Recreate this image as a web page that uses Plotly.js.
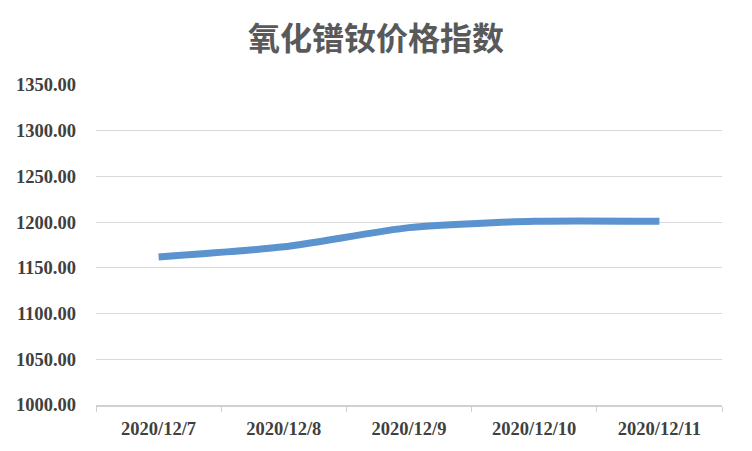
<!DOCTYPE html>
<html><head><meta charset="utf-8">
<script src="https://cdn.plot.ly/plotly-3.0.1.min.js"></script>
<style>html,body{margin:0;padding:0;background:#fff}#chart{width:752px;height:451px}</style>
</head><body><div id="chart"></div>
<script>
var categories = ["2020/12/7", "2020/12/8", "2020/12/9", "2020/12/10", "2020/12/11"];
var values = [1162, 1173, 1194, 1201, 1201];
var yTicks = [1000, 1050, 1100, 1150, 1200, 1250, 1300, 1350];
var chartTitle = "氧化镨钕价格指数";

var trace = {
  x: categories, y: values, type: "scatter", mode: "lines",
  line: {color: "#5B93CF", width: 7, shape: "spline", smoothing: 0.6},
  hoverinfo: "none"
};
var labelFont = {family: "Liberation Serif, Times New Roman, serif", size: 18.5, color: "#404040", weight: "bold"};
var layout = {
  width: 752, height: 451,
  margin: {l: 96, r: 30, t: 85, b: 46},
  paper_bgcolor: "#fff", plot_bgcolor: "#fff",
  showlegend: false,
  title: {text: chartTitle, x: 0.5, xanchor: "center", y: 0.915, yanchor: "middle",
          font: {family: "Noto Sans CJK SC, sans-serif", size: 32, color: "#595959", weight: "bold"}},
  xaxis: {type: "category", tickvals: categories, ticktext: categories,
          showgrid: false, showline: true, linecolor: "#d0d0d0", linewidth: 1.5,
          ticks: "outside", tickson: "boundaries", ticklen: 5, tickcolor: "#d0d0d0",
          ticklabelstandoff: 6,
          tickfont: labelFont, zeroline: false, range: [-0.5, 4.5]},
  yaxis: {range: [1000, 1350], tickvals: yTicks, ticktext: yTicks.map(function(v){return v.toFixed(2);}),
          showgrid: true, gridcolor: "#d9d9d9", gridwidth: 1, showline: false, zeroline: false,
          ticks: "", ticklabelstandoff: 19, tickfont: labelFont}
};
Plotly.newPlot("chart", [trace], layout, {staticPlot: true});
</script></body></html>
